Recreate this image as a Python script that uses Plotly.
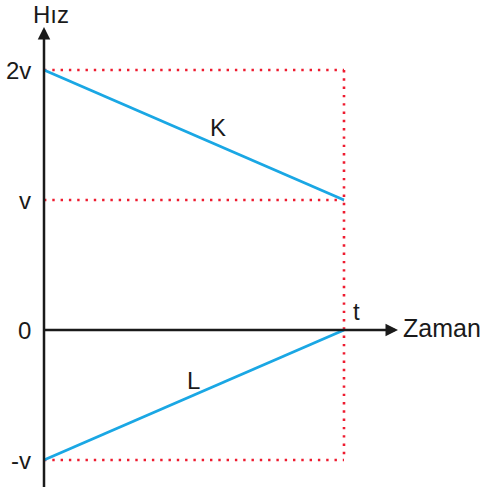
import plotly.graph_objects as go

# data: time and speed values (units of t and v)
t_vals = [0, 1]
k_speed = [2, 1]
l_speed = [-1, 0]
y_ticks = [2, 1, 0, -1]
y_tick_labels = ["2v", "v", "0", "-v"]

BLUE = "#1aa7e4"
RED = "#ee1b2f"
INK = "#1a1a1a"
FONT = "Liberation Sans, Arial, sans-serif"


def create_traces():
    traces = [
        go.Scatter(x=t_vals, y=k_speed, mode="lines",
                   line=dict(color=BLUE, width=2.9), hoverinfo="skip"),
        go.Scatter(x=t_vals, y=l_speed, mode="lines",
                   line=dict(color=BLUE, width=2.9), hoverinfo="skip"),
    ]
    return traces


def create_plot(traces):
    fig = go.Figure(data=traces)
    dot = dict(color=RED, width=2.6, dash="2.4px,5.9px")
    shapes = []
    # guide lines from each tick to t
    for yv in [2, 1, -1]:
        shapes.append(dict(type="line", x0=0, x1=t_vals[1], y0=yv, y1=yv,
                           xref="x", yref="y", line=dot, layer="below"))
    shapes.append(dict(type="line", x0=t_vals[1], x1=t_vals[1], y0=2, y1=-1,
                       xref="x", yref="y", line=dot, layer="below"))
    fig.update_layout(shapes=shapes)

    annotations = [
        # y axis with arrow
        dict(x=0, y=2.33, ax=0, ay=-1.22, xref="x", yref="y", axref="x", ayref="y",
             showarrow=True, arrowhead=2, arrowsize=1.0, arrowwidth=2.5,
             arrowcolor=INK, text=""),
        # x axis with arrow
        dict(x=1.18, y=0, ax=-0.005, ay=0, xref="x", yref="y", axref="x", ayref="y",
             showarrow=True, arrowhead=2, arrowsize=1.0, arrowwidth=2.5,
             arrowcolor=INK, text=""),
        dict(x=0.023, y=2.43, text="Hız", showarrow=False,
             font=dict(size=24, color=INK, family=FONT)),
        dict(x=1.19, y=0.015, text="Zaman", showarrow=False, xanchor="left",
             yanchor="middle", font=dict(size=25, color=INK, family=FONT)),
        dict(x=1.043, y=0.146, text="t", showarrow=False,
             font=dict(size=24, color=INK, family=FONT)),
        dict(x=0.58, y=1.56, text="K", showarrow=False,
             font=dict(size=24, color=INK, family=FONT)),
        dict(x=0.497, y=-0.385, text="L", showarrow=False,
             font=dict(size=24, color=INK, family=FONT)),
    ]
    for yv, lab in zip(y_ticks, y_tick_labels):
        annotations.append(dict(x=-0.038, y=yv, text=lab, showarrow=False,
                                xanchor="right", yanchor="middle",
                                font=dict(size=24, color=INK, family=FONT)))
    fig.update_layout(annotations=annotations)

    fig.update_layout(
        width=486, height=492,
        margin=dict(l=0, r=0, t=0, b=0),
        paper_bgcolor="white", plot_bgcolor="white",
        showlegend=False,
        xaxis=dict(range=[-44 / 300, 442 / 300], visible=False, fixedrange=True),
        yaxis=dict(range=[-162 / 130, 330 / 130], visible=False, fixedrange=True),
    )
    return fig


def main():
    traces = create_traces()
    fig = create_plot(traces)
    fig.write_html("out.html", config={"displayModeBar": False},
                   post_script="document.body.style.margin='0';")


if __name__ == "__main__":
    main()
